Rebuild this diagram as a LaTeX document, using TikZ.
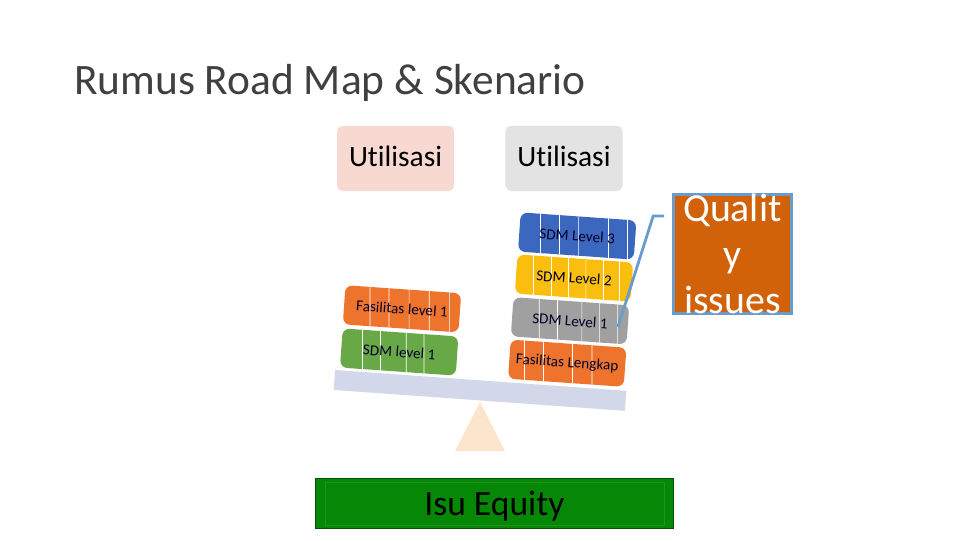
\documentclass[tikz,border=0pt]{standalone}
\usepackage{fontspec}
\setmainfont{Carlito}[Ligatures=NoCommon]
\definecolor{utilpink}{RGB}{248, 217, 209}
\definecolor{utilgray}{RGB}{227, 227, 227}
\definecolor{tileblue}{RGB}{60, 103, 190}
\definecolor{tileyellow}{RGB}{250, 190, 15}
\definecolor{tilegray}{RGB}{160, 160, 160}
\definecolor{tileorange}{RGB}{238, 115, 45}
\definecolor{tilegreen}{RGB}{104, 168, 70}
\definecolor{beamblue}{RGB}{210, 216, 234}
\definecolor{pivotcream}{RGB}{252, 229, 205}
\definecolor{equitygreen}{RGB}{6, 135, 6}
\definecolor{qualityorange}{RGB}{210, 98, 10}
\definecolor{calloutblue}{RGB}{105, 155, 205}
\usetikzlibrary{positioning, calc}

\begin{document}
\begin{tikzpicture}[
  utilbox/.style={rounded corners=4pt, minimum width=2.93cm, minimum height=1.63cm, inner sep=0pt, text depth=3pt, font=\fontsize{21}{25}\selectfont},
  tilebox/.style={rounded corners=5pt, minimum width=2.9cm, minimum height=0.98cm, inner sep=0pt, rotate=-4, font=\fontsize{10.8}{13}\selectfont, text=black!85!blue,
    path picture={
      \foreach \f in {#1} {
        \draw[white, line width=0.5pt] ($(path picture bounding box.south west)!\f!(path picture bounding box.south east)$) -- ($(path picture bounding box.north west)!\f!(path picture bounding box.north east)$);
      }
    }}
]
  \useasboundingbox (0,0) rectangle (24,13.5);

  % Title
  \node[anchor=west, inner sep=0pt, text=black!75, font=\fontsize{30.9}{36}\selectfont] (title) at (1.85,11.43) {Rumus Road Map \& Skenario};

  % Top boxes
  \node[utilbox, fill=utilpink] (utilleft) at (9.89,9.54) {Utilisasi};
  \node[utilbox, fill=utilgray] (utilright) at (14.1,9.54) {Utilisasi};

  % Beam and pivot
  \fill[pivotcream] (11.375,2.225) -- (12.625,2.225) -- (12,3.45) -- cycle;
  \node[fill=beamblue, minimum width=7.3cm, minimum height=0.5cm, inner sep=0pt, rotate=-4.1] (beam) at (12,3.74) {};

  % Left pan
  \node[tilebox={.23,.39,.56,.73,.90}, fill=tileorange] (fasleft) at (10.05,5.78) {Fasilitas level 1};
  \node[tilebox={.19,.34,.56,.71}, fill=tilegreen] (sdmleft) at (9.98,4.7) {SDM level 1};

  % Right pan
  \node[tilebox={.19,.35,.51,.76,.92}, fill=tileblue] (sdmthree) at (14.43,7.6) {SDM Level 3};
  \node[tilebox={.16,.305,.45,.60,.745,.88}, fill=tileyellow] (sdmtwo) at (14.35,6.55) {SDM Level 2};
  \node[tilebox={.24,.39,.60,.75,.90}, fill=tilegray] (sdmone) at (14.25,5.48) {SDM Level 1};
  \node[tilebox={.14,.30,.54,.71}, fill=tileorange] (faslengkap) at (14.18,4.42) {Fasilitas Lengkap};

  % Bottom bar
  \node[draw=equitygreen!60!black, line width=0.8pt, fill=equitygreen, minimum width=8.95cm, minimum height=1.26cm, inner sep=0pt, text height=21pt, font=\fontsize{25.3}{30}\selectfont] (isu) at (12.36,0.91) {Isu Equity};
  \draw[equitygreen!90!white, line width=0.4pt] ($(isu.north west)+(0.25,-0.12)$) rectangle ($(isu.south east)+(-0.25,0.1)$);

  % Quality callout
  \node[draw=calloutblue, line width=2pt, fill=qualityorange, minimum width=2.95cm, minimum height=2.98cm, inner sep=0pt] (quality) at (18.31,7.15) {};
  \node[text=white, inner sep=0pt, align=center, font=\fontsize{28.3}{32.5}\selectfont] (qualitytext) at (quality.center) {Qualit\\y\\issues};
  \coordinate (calloutstart) at (16.6,8.1);
  \coordinate (calloutbend) at (16.33,8.1);
  \coordinate (calloutend) at (15.45,5.33);
  \draw[calloutblue, line width=2pt] (calloutstart) -- (calloutbend) -- (calloutend);
\end{tikzpicture}
\end{document}
